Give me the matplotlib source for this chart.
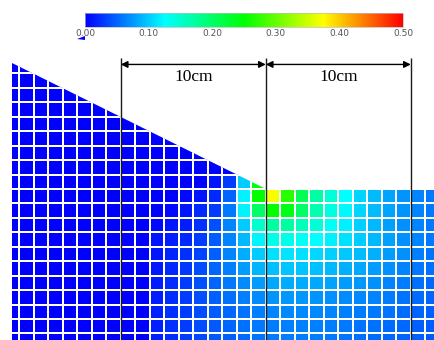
import numpy as np
import matplotlib
matplotlib.use('Agg')
import matplotlib.pyplot as plt
from matplotlib.colors import LinearSegmentedColormap
from matplotlib.patches import Polygon

# cell values (1 cm cells), columns u = 9..28, rows from v = 0..1 downwards
cols_u = np.arange(9, 29)
rows_v = np.arange(0, -13, -1)
block = [
    [0, 0, 0, 0, 0.01, 0.03, 0.10, 0.24, 0, 0, 0, 0, 0, 0, 0, 0, 0, 0, 0, 0],
    [0, 0, 0.005, 0.01, 0.02, 0.05, 0.12, 0.25, 0.37, 0.27, 0.21, 0.17, 0.145, 0.125, 0.105, 0.092, 0.082, 0.073, 0.066, 0.06],
    [0, 0.005, 0.01, 0.02, 0.03, 0.06, 0.12, 0.20, 0.25, 0.24, 0.20, 0.165, 0.14, 0.122, 0.105, 0.092, 0.082, 0.073, 0.066, 0.06],
    [0.005, 0.01, 0.015, 0.025, 0.04, 0.065, 0.10, 0.15, 0.17, 0.17, 0.16, 0.145, 0.13, 0.118, 0.102, 0.09, 0.08, 0.072, 0.065, 0.06],
    [0.01, 0.015, 0.02, 0.03, 0.045, 0.065, 0.09, 0.12, 0.135, 0.135, 0.13, 0.125, 0.118, 0.11, 0.10, 0.09, 0.08, 0.072, 0.065, 0.06],
    [0.01, 0.018, 0.025, 0.035, 0.048, 0.065, 0.085, 0.10, 0.11, 0.112, 0.11, 0.107, 0.103, 0.098, 0.092, 0.086, 0.078, 0.071, 0.064, 0.058],
    [0.012, 0.02, 0.028, 0.038, 0.05, 0.063, 0.077, 0.088, 0.095, 0.097, 0.096, 0.094, 0.091, 0.087, 0.083, 0.078, 0.072, 0.066, 0.06, 0.055],
    [0.014, 0.022, 0.03, 0.04, 0.05, 0.06, 0.07, 0.078, 0.083, 0.085, 0.085, 0.083, 0.081, 0.078, 0.075, 0.071, 0.066, 0.061, 0.056, 0.052],
    [0.015, 0.023, 0.031, 0.04, 0.048, 0.056, 0.063, 0.069, 0.073, 0.075, 0.075, 0.074, 0.072, 0.07, 0.068, 0.065, 0.061, 0.057, 0.053, 0.05],
    [0.016, 0.024, 0.031, 0.039, 0.046, 0.052, 0.058, 0.063, 0.066, 0.068, 0.068, 0.067, 0.066, 0.064, 0.062, 0.06, 0.057, 0.054, 0.05, 0.047],
    [0.017, 0.024, 0.031, 0.038, 0.044, 0.05, 0.055, 0.059, 0.062, 0.063, 0.063, 0.063, 0.062, 0.06, 0.058, 0.056, 0.054, 0.051, 0.048, 0.045],
    [0.017, 0.024, 0.031, 0.037, 0.043, 0.048, 0.053, 0.057, 0.06, 0.061, 0.061, 0.061, 0.06, 0.058, 0.056, 0.054, 0.052, 0.05, 0.047, 0.044],
    [0.017, 0.024, 0.03, 0.036, 0.042, 0.047, 0.052, 0.056, 0.058, 0.059, 0.06, 0.06, 0.059, 0.057, 0.055, 0.053, 0.051, 0.049, 0.046, 0.043],
]

# domain outline (slope 1:2 down to the toe at u = 17)
domain_u = [-0.5, -0.5, 17, 30, 30]
domain_v = [-12, 8.75, 0, 0, -12]

line_u = [7, 17, 27]
labels = ['10cm', '10cm']
cbar_ticks = [0.0, 0.1, 0.2, 0.3, 0.4, 0.5]

# full grid u = -1..29, v = -12..9
xe = np.arange(-1, 30)
ye = np.arange(-12, 10)
field = np.zeros((len(ye) - 1, len(xe) - 1))
for i, v in enumerate(rows_v):
    for j, u in enumerate(cols_u):
        field[v - ye[0], u - xe[0]] = block[i][j]

cmap = LinearSegmentedColormap.from_list(
    'bcgyr', ['#0000ff', '#00ffff', '#00ff00', '#ffff00', '#ff0000'])

fig = plt.figure(figsize=(4.35, 3.4), dpi=100)
ax = fig.add_axes([0, 0, 1, 1])
ax.set_xlim(-1.33, 28.67)
ax.set_ylim(-10.45, 13.08)
ax.axis('off')

mesh = ax.pcolormesh(xe, ye, field, cmap=cmap, vmin=0, vmax=0.5,
                     edgecolors='white', linewidth=1.3)
clip = Polygon(list(zip(domain_u, domain_v)), closed=True,
               transform=ax.transData, facecolor='none', edgecolor='none')
ax.add_patch(clip)
mesh.set_clip_path(clip)

ax.vlines(line_u, -12, 9.1, colors='#1a1a1a', lw=1.0)
for k in range(2):
    ax.annotate('', xy=(line_u[k], 8.62), xytext=(line_u[k + 1], 8.62),
                arrowprops=dict(arrowstyle='<|-|>', color='black', lw=1.0,
                                shrinkA=0, shrinkB=0, mutation_scale=10))
    ax.text((line_u[k] + line_u[k + 1]) / 2, 7.75, labels[k],
            ha='center', va='center', fontsize=12.5,
            family='Liberation Serif')

cax = fig.add_axes([85 / 435, 1 - 27 / 340, 318 / 435, 14 / 340])
cb = fig.colorbar(mesh, cax=cax, orientation='horizontal', ticks=cbar_ticks)
cb.ax.set_xticklabels(['%.2f' % t for t in cbar_ticks])
cb.ax.tick_params(length=0, labelsize=6.5, labelcolor='#555555', pad=1.5)
cb.outline.set_edgecolor('#bbbbbb')
cb.outline.set_linewidth(0.5)

# small blue wedge under the colorbar's left end
fig.patches.append(Polygon([(77 / 435, 1 - 39 / 340), (85 / 435, 1 - 36 / 340),
                            (85 / 435, 1 - 40 / 340)], closed=True,
                           transform=fig.transFigure, facecolor='#0000ff',
                           edgecolor='none'))

fig.savefig('out.png', dpi=100)
